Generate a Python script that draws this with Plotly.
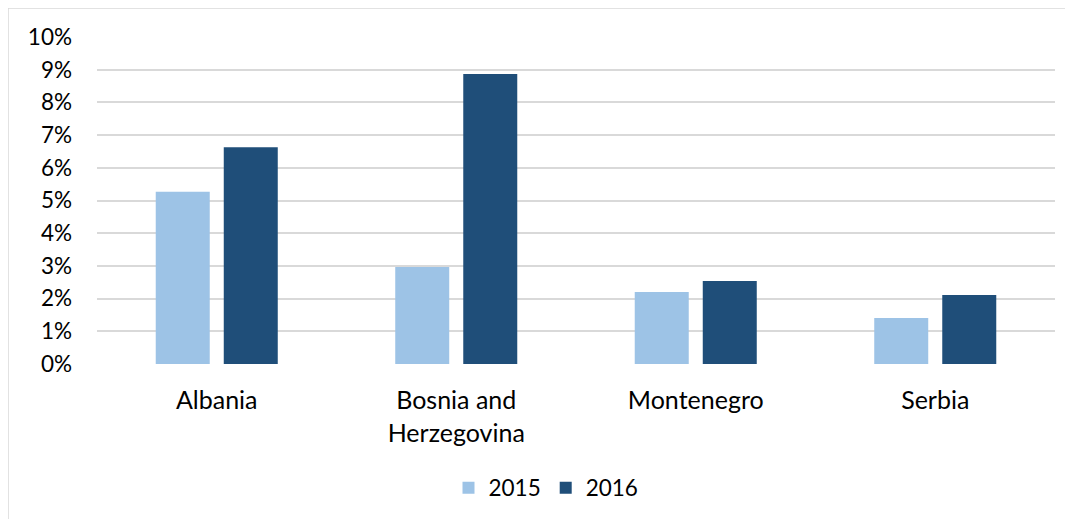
import plotly.graph_objects as go

categories = ["Albania", "Bosnia and<br>Herzegovina", "Montenegro", "Serbia"]
series_names = ["2015", "2016"]
values_2015 = [0.0527, 0.0297, 0.0220, 0.0141]
values_2016 = [0.0663, 0.0887, 0.0254, 0.0211]
y_ticks = [i / 100 for i in range(0, 11)]
y_tick_labels = [f"{i}%" for i in range(0, 11)]

colors = ["#9DC3E6", "#1F4E79"]
FONT = "Lato"

fig = go.Figure()
for name, vals, col in zip(series_names, [values_2015, values_2016], colors):
    fig.add_trace(go.Bar(x=categories, y=vals, name=name, marker=dict(color=col, line=dict(width=0))))

# page renders with an 8px body offset; compensate
OFF = 8
W, H = 1073, 519
L, T = 97 - OFF, 37 - OFF
B = H - (364 - OFF)
R = W - (1055 - OFF)
pw, ph = W - L - R, H - T - B

def px(x):
    return (x - OFF - L) / pw

def py(y):
    return (H - B - (y - OFF)) / ph

fig.update_layout(
    width=W, height=H,
    margin=dict(l=L, r=R, t=T, b=B, pad=0),
    paper_bgcolor="white", plot_bgcolor="white",
    barmode="group", bargap=0.432, bargroupgap=0.206,
    font=dict(family=FONT, size=24, color="#000000"),
    showlegend=True,
    legend=dict(orientation="h", x=0.5 - 30 / pw, xanchor="center", y=py(488), yanchor="middle",
                font=dict(size=22.5), itemwidth=30, traceorder="normal"),
    xaxis=dict(showgrid=False, showline=False, zeroline=False, ticks="",
               ticklabelstandoff=19, tickfont=dict(size=25)),
    yaxis=dict(range=[0, 0.1], tickvals=y_ticks, ticktext=y_tick_labels,
               showgrid=True, gridcolor="#d9d9d9", gridwidth=1.5,
               zeroline=False, showline=False, ticks="",
               ticklabelstandoff=24, tickfont=dict(size=22.5)),
    shapes=[dict(type="rect", xref="paper", yref="paper",
                 x0=px(8), x1=px(1066), y0=py(540), y1=py(8),
                 line=dict(color="#d9d9d9", width=1.5), fillcolor="rgba(0,0,0,0)", layer="below")],
)

fig.write_html("out.html")
